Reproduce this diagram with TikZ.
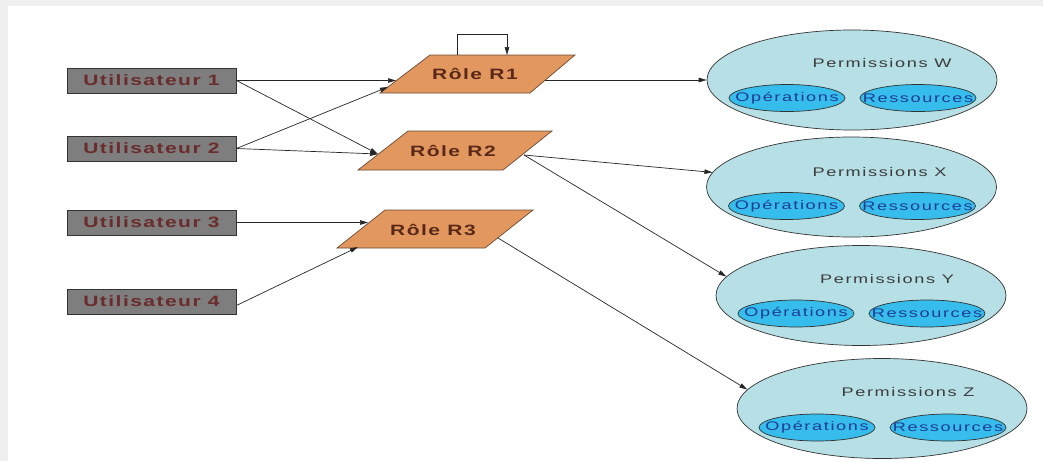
\documentclass[tikz,border=0pt]{standalone}
\usepackage{fontspec}
\setmainfont{Liberation Sans}
\newfontfamily\boldspaced[LetterSpace=7]{Liberation Sans}
\newfontfamily\plainspaced[LetterSpace=9]{Liberation Sans}
\usepackage{graphicx}
\usetikzlibrary{arrows.meta,shapes.geometric,calc}

\definecolor{userfill}{HTML}{7E7E7E}
\definecolor{usertext}{HTML}{6A2C2C}
\definecolor{rolefill}{HTML}{E2975F}
\definecolor{roleedge}{HTML}{6B4A33}
\definecolor{roletext}{HTML}{5A2818}
\definecolor{permfill}{HTML}{B6E0E6}
\definecolor{subfill}{HTML}{36BDEB}
\definecolor{subtext}{HTML}{1E3C98}
\definecolor{permtext}{HTML}{3C3C3C}
\definecolor{frame}{HTML}{EFEFEF}

% wide, tracked lettering
\newcommand\widebold[1]{\scalebox{1.4}[1]{#1}}
\newcommand\wideplain[1]{\scalebox{1.45}[1]{#1}}

\tikzset{
  userbox/.style={draw=black!80, fill=userfill, line width=0.8pt,
    minimum width=169pt, minimum height=25pt, inner sep=0pt,
    text=usertext, font=\boldspaced\bfseries\fontsize{15}{15}\selectfont},
  rolelabel/.style={inner sep=0pt, text=roletext,
    font=\boldspaced\bfseries\fontsize{15}{15}\selectfont},
  roleshape/.style={draw=roleedge, fill=rolefill, line width=0.7pt},
  permbox/.style={ellipse, draw=black!80, fill=permfill, line width=0.7pt,
    minimum width=290pt, minimum height=100pt, inner sep=0pt},
  subbox/.style={ellipse, draw=black!80, fill=subfill, line width=0.7pt,
    minimum width=116pt, minimum height=27pt, inner sep=0pt},
  subtitle/.style={inner sep=0pt, text=subtext, font=\plainspaced\fontsize{12.5}{12.5}\selectfont},
  permtitle/.style={inner sep=0pt, text=permtext, font=\plainspaced\fontsize{12.5}{12.5}\selectfont},
  link/.style={draw=black!85, line width=0.7pt, -{Triangle[length=8pt,width=4.5pt]}}
}

\newcommand\permset[5]{%
  % #1 name, #2 centre, #3 letter, #4 title offset, #5 sub offset
  \node[permbox] (#1) at #2 {};
  \node[permtitle] (#1t) at ($(#1)+#4$) {\wideplain{Permissions #3}};
  \node[subbox] (#1o) at ($(#1)+(-65,#5)$) {};
  \node[subtitle] at (#1o) {\wideplain{Opérations}};
  \node[subbox] (#1r) at ($(#1)+(66,#5)$) {};
  \node[subtitle] at (#1r) {\wideplain{Ressources}};
}

\begin{document}
\begin{tikzpicture}[x=1pt,y=-1pt]
  % page frame
  \fill[frame] (0,0) rectangle (1043,461);
  \fill[white] (8,6) rectangle (1043,461);
  \useasboundingbox (0,0) rectangle (1043,461);

  % users
  \node[userbox] (u1) at (151.5,80.5) {\widebold{Utilisateur 1}};
  \node[userbox] (u2) at (151.5,148.5) {\widebold{Utilisateur 2}};
  \node[userbox] (u3) at (151.5,222.5) {\widebold{Utilisateur 3}};
  \node[userbox] (u4) at (151.5,301.5) {\widebold{Utilisateur 4}};

  % roles (parallelograms)
  \filldraw[roleshape] (380,93) -- (530,93) -- (575,55) -- (430,55) -- cycle;
  \node[rolelabel] (r1) at (475,74) {\widebold{Rôle R1}};
  \filldraw[roleshape] (358,170) -- (503,170) -- (552,131) -- (408,131) -- cycle;
  \node[rolelabel] (r2) at (453,151) {\widebold{Rôle R2}};
  \filldraw[roleshape] (337,248) -- (485,248) -- (533,210) -- (385,210) -- cycle;
  \node[rolelabel] (r3) at (433,230) {\widebold{Rôle R3}};

  % connection points on the role outlines
  \coordinate (r1in)  at (396,80.5);
  \coordinate (r1in2) at (388,87);
  \coordinate (r1out) at (545,80);
  \coordinate (r1la)  at (457,55);
  \coordinate (r1lb)  at (507,55);
  \coordinate (r2in)  at (378,154);
  \coordinate (r2out) at (524,155);
  \coordinate (r3in)  at (368,222.5);
  \coordinate (r3in2) at (358,247);
  \coordinate (r3out) at (498,238);

  % permissions
  \permset{pw}{(852,80)}{W}{(30,-17)}{18}
  \permset{px}{(851.5,187)}{X}{(28,-15)}{19}
  \permset{py}{(861,295.5)}{Y}{(26,-16.5)}{18}
  \permset{pz}{(882,408.5)}{Z}{(26,-16.5)}{19}

  % user -> role
  \draw[link] (u1.east) -- (r1in);
  \draw[link] (u1.east) -- (r2in);
  \draw[link] (u2.east) -- (r1in2);
  \draw[link] (u2.east) -- (r2in);
  \draw[link] (u3.east) -- (r3in);
  \draw[link] ([yshift=-4pt]u4.east) -- (r3in2);

  % role hierarchy loop on R1
  \draw[link] (r1la) -- ++(0,-21) -| (r1lb);

  % role -> permissions
  \draw[link] (r1out) -- (pw.west);
  \draw[link] (r2out) -- (px.174);
  \draw[link] (r2out) -- (py.172);
  \draw[link] (r3out) -- (pz.172);
\end{tikzpicture}
\end{document}
